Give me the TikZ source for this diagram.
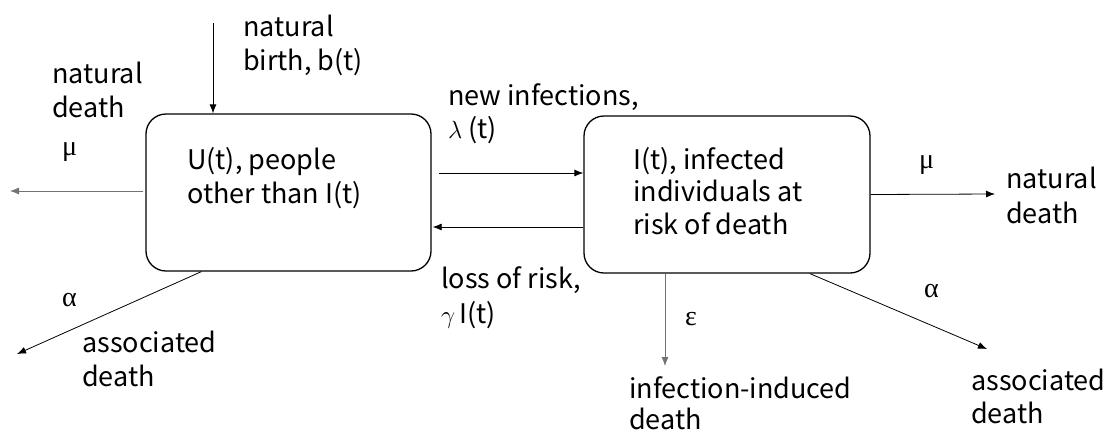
\documentclass[tikz,border=0pt]{standalone}
\usepackage{fontspec}
\setmainfont{Noto Sans CJK JP}
\newfontfamily\grk{Liberation Serif}
\usetikzlibrary{arrows.meta}
\begin{document}
\begin{tikzpicture}[x=1pt,y=-1pt,
  box/.style={draw=black,line width=1.3pt,rounded corners=20pt,minimum width=285pt,minimum height=157pt,inner sep=0pt},
  lbl/.style={anchor=base west,inner sep=0pt,align=left,font=\fontsize{27}{34}\selectfont},
  glbl/.style={anchor=base west,inner sep=0pt,font=\grk\fontsize{28}{30}\selectfont},
  flow/.style={draw=black,line width=0.8pt,-{Latex[length=9pt,width=7pt]}},
  gflow/.style={flow,draw=black!55}]
\useasboundingbox (0,0) rectangle (1109,432);
\node[box] (U) at (288.5,192.5) {};
\node[box,minimum width=286pt] (I) at (727,194.5) {};
\node[lbl] (Ut) at (187,203) {U(t), people\\other than I(t)};
\node[lbl,font=\fontsize{27}{32.5}\selectfont] (It) at (633,234) {I(t), infected\\individuals at\\risk of death};
\node[lbl] (birth) at (243,70) {natural\\birth, b(t)};
\node[lbl] (nd1) at (52,117) {natural\\death};
\node[glbl] (mu1) at (62,155) {μ};
\node[glbl] (al1) at (62,306) {α};
\node[lbl] (ad1) at (82,386) {associated\\death};
\node[lbl,font=\fontsize{27}{33}\selectfont] (newinf) at (448,138) {new infections,\\$\lambda$ (t)};
\node[lbl,font=\fontsize{27}{35}\selectfont] (loss) at (441,323) {loss of risk,\\$\gamma$\,I(t)};
\node[glbl] (eps) at (685,325) {ε};
\node[lbl,font=\fontsize{27}{31}\selectfont] (iid) at (629,429) {infection-induced\\death};
\node[glbl] (mu2) at (919,168) {μ};
\node[lbl,font=\fontsize{27}{35}\selectfont] (nd2) at (1006,223) {natural\\death};
\node[glbl] (al2) at (924,297) {α};
\node[lbl,font=\fontsize{27}{33}\selectfont] (ad2) at (971,423) {associated\\death};
\coordinate (b0) at (213,23);
\coordinate (m1) at (10,191);
\coordinate (a1) at (17,354);
\coordinate (e1) at (665,366);
\coordinate (m2) at (995,194);
\coordinate (a2) at (987,349);
\draw[flow] (b0) -- ([xshift=-75.5pt]U.north);
\draw[gflow] ([yshift=1.5pt,xshift=-2pt]U.west) -- (m1);
\draw[flow] ([xshift=56pt]U.south west) -- (a1);
\draw[flow] ([xshift=7pt,yshift=19.5pt]U.east) -- ([yshift=21.5pt]I.west);
\draw[flow] ([yshift=-32.5pt]I.west) -- ([xshift=1pt,yshift=-34.5pt]U.east);
\draw[gflow] ([xshift=-62pt]I.south) -- (e1);
\draw[flow] (I.east) -- (m2);
\draw[flow] ([xshift=83pt]I.south) -- (a2);
\end{tikzpicture}
\end{document}
